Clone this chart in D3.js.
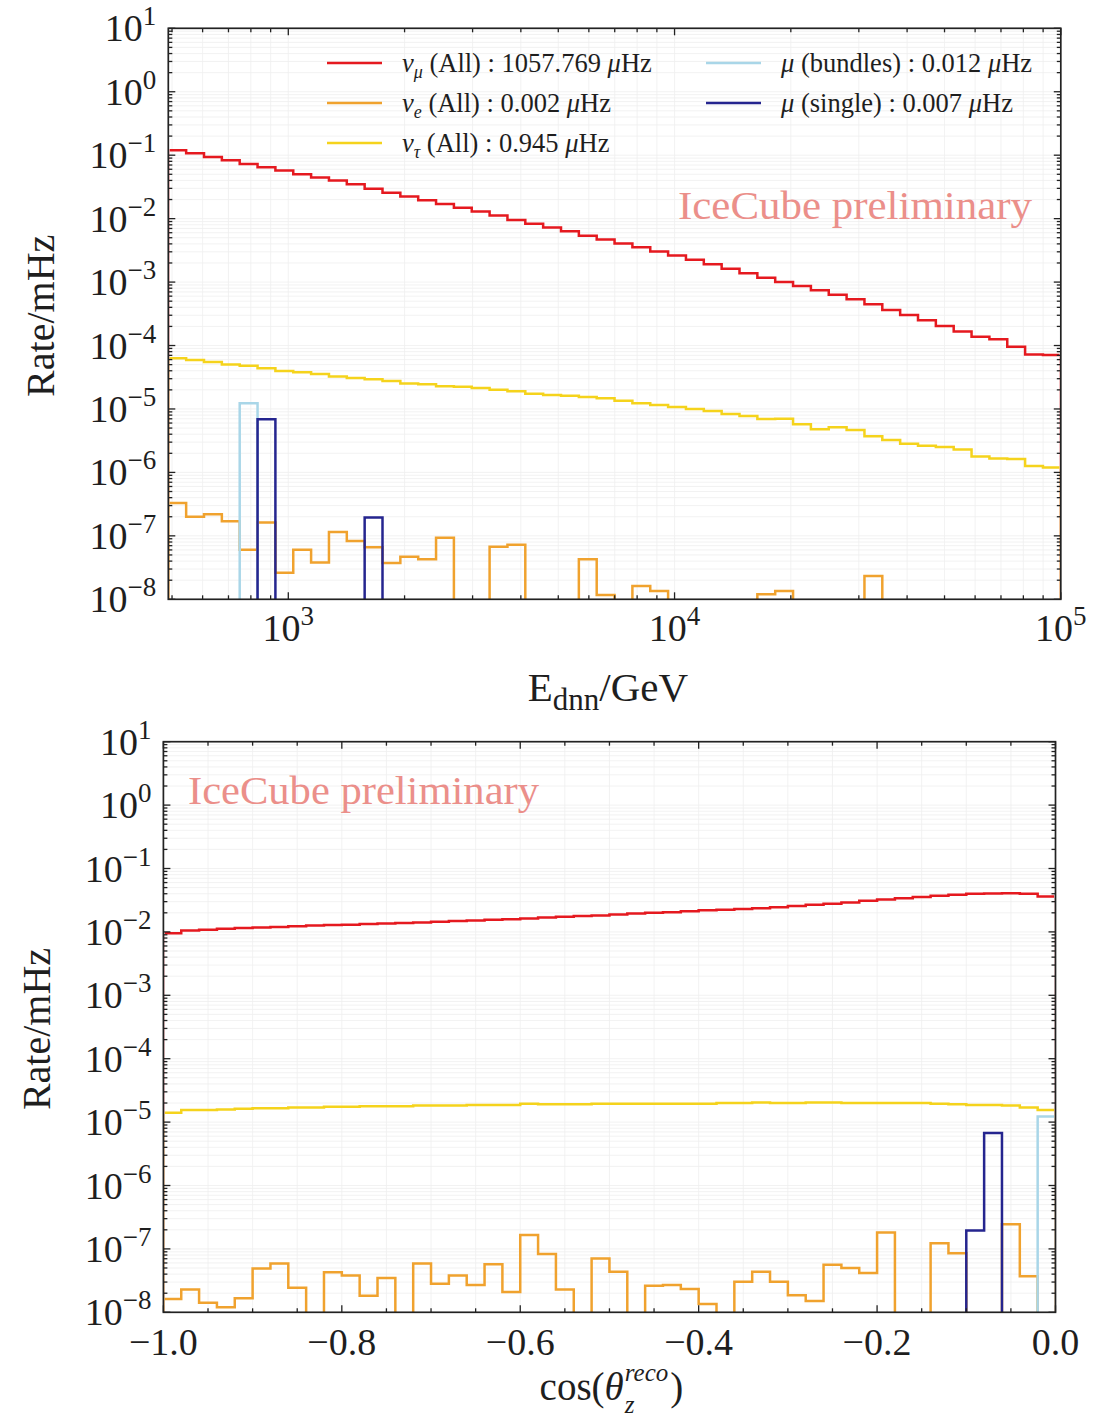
<!DOCTYPE html>
<html><head><meta charset="utf-8">
<script src="https://cdn.jsdelivr.net/npm/d3@7"></script>
<style>
body{margin:0;background:#fff}
svg{display:block}
text{font-family:"Liberation Serif","Times New Roman",serif;fill:#1e1e1e}
</style>
</head><body>
<svg id="chart" width="1105" height="1421"></svg>
<script>
// ---------------- DATA ----------------
// Binning (top panel: reconstructed energy, log bins; bottom panel: cos zenith, linear bins)
const energyMin = 489, energyMax = 1e5, nEnergyBins = 50;
const cosMin = -1.0, cosMax = 0.0, nCosBins = 50;

const seriesKeys   = ["numu", "nue", "nutau", "bundles", "single"];
const seriesColors = ["#e5191f", "#f0a22e", "#f5d31c", "#a9d6e8", "#25258f"];

// Top panel: Rate/mHz per E_dnn bin
const energyNuMu = [1.20e-1,1.07e-1,9.33e-2,8.32e-2,7.24e-2,6.46e-2,5.75e-2,5.01e-2,4.47e-2,3.98e-2,
  3.47e-2,2.95e-2,2.57e-2,2.24e-2,1.95e-2,1.70e-2,1.48e-2,1.29e-2,1.12e-2,9.55e-3,
  8.32e-3,7.24e-3,6.31e-3,5.37e-3,4.68e-3,4.07e-3,3.55e-3,3.02e-3,2.63e-3,2.24e-3,
  1.91e-3,1.62e-3,1.38e-3,1.17e-3,1.00e-3,8.71e-4,7.41e-4,6.31e-4,5.37e-4,4.47e-4,
  3.63e-4,3.02e-4,2.51e-4,2.04e-4,1.66e-4,1.38e-4,1.26e-4,9.55e-5,7.24e-5,7.08e-5];
const energyNuE = [3.31e-7,2.00e-7,2.19e-7,1.70e-7,6.03e-8,1.62e-7,2.63e-8,6.03e-8,3.80e-8,1.15e-7,
  8.32e-8,6.61e-8,3.72e-8,4.68e-8,4.27e-8,9.33e-8,0,0,6.76e-8,7.24e-8,
  0,0,0,4.27e-8,1.17e-8,0,1.62e-8,1.35e-8,0,0,
  0,0,0,1.20e-8,1.35e-8,0,0,0,0,2.34e-8,
  0,0,0,0,0,0,0,0,0,0];
const energyNuTau = [6.31e-5,5.89e-5,5.50e-5,5.01e-5,4.79e-5,4.37e-5,3.98e-5,3.80e-5,3.55e-5,3.24e-5,
  3.09e-5,2.95e-5,2.75e-5,2.51e-5,2.45e-5,2.29e-5,2.24e-5,2.14e-5,2.00e-5,1.91e-5,
  1.74e-5,1.66e-5,1.62e-5,1.55e-5,1.48e-5,1.35e-5,1.23e-5,1.15e-5,1.07e-5,1.00e-5,
  9.33e-6,8.32e-6,7.76e-6,6.92e-6,7.00e-6,5.75e-6,4.79e-6,5.13e-6,4.68e-6,3.72e-6,
  3.24e-6,2.82e-6,2.63e-6,2.51e-6,2.29e-6,1.78e-6,1.66e-6,1.62e-6,1.26e-6,1.20e-6];
const energyMuBundles = [0,0,0,0,1.23e-5,0,0,0,0,0, 0,0,0,0,0,0,0,0,0,0,
  0,0,0,0,0,0,0,0,0,0, 0,0,0,0,0,0,0,0,0,0, 0,0,0,0,0,0,0,0,0,0];
const energyMuSingle = [0,0,0,0,0,6.9e-6,0,0,0,0, 0,1.95e-7,0,0,0,0,0,0,0,0,
  0,0,0,0,0,0,0,0,0,0, 0,0,0,0,0,0,0,0,0,0, 0,0,0,0,0,0,0,0,0,0];

// Bottom panel: Rate/mHz per cos(theta_z^reco) bin
const cosNuMu = [9.55e-3,1.05e-2,1.08e-2,1.12e-2,1.15e-2,1.17e-2,1.20e-2,1.23e-2,1.26e-2,1.29e-2,
  1.30e-2,1.33e-2,1.36e-2,1.38e-2,1.41e-2,1.45e-2,1.48e-2,1.51e-2,1.55e-2,1.58e-2,
  1.62e-2,1.68e-2,1.74e-2,1.78e-2,1.82e-2,1.88e-2,1.95e-2,2.00e-2,2.04e-2,2.11e-2,
  2.19e-2,2.24e-2,2.29e-2,2.37e-2,2.45e-2,2.57e-2,2.69e-2,2.79e-2,2.92e-2,3.09e-2,
  3.24e-2,3.39e-2,3.55e-2,3.72e-2,3.85e-2,3.98e-2,4.03e-2,4.07e-2,3.98e-2,3.63e-2];
const cosNuE = [1.62e-8,2.29e-8,1.41e-8,1.20e-8,1.66e-8,4.90e-8,5.89e-8,2.45e-8,0,4.27e-8,
  3.80e-8,1.82e-8,3.47e-8,0,5.89e-8,2.82e-8,3.80e-8,2.69e-8,5.75e-8,2.09e-8,
  1.66e-7,8.32e-8,2.29e-8,0,7.08e-8,4.37e-8,0,2.63e-8,2.69e-8,2.34e-8,
  1.35e-8,0,3.02e-8,4.37e-8,3.02e-8,1.86e-8,1.51e-8,5.62e-8,5.01e-8,4.17e-8,
  1.82e-7,0,0,1.23e-7,8.51e-8,0,0,2.45e-7,3.72e-8,0];
const cosNuTau = [1.41e-5,1.55e-5,1.55e-5,1.58e-5,1.62e-5,1.66e-5,1.66e-5,1.70e-5,1.70e-5,1.74e-5,
  1.74e-5,1.78e-5,1.78e-5,1.78e-5,1.82e-5,1.82e-5,1.82e-5,1.86e-5,1.86e-5,1.86e-5,
  1.95e-5,1.91e-5,1.91e-5,1.91e-5,1.95e-5,1.95e-5,1.95e-5,1.95e-5,1.95e-5,1.95e-5,
  1.95e-5,2.00e-5,2.00e-5,2.04e-5,2.00e-5,2.00e-5,2.04e-5,2.04e-5,2.00e-5,2.00e-5,
  2.00e-5,2.00e-5,2.00e-5,1.95e-5,1.91e-5,1.86e-5,1.86e-5,1.82e-5,1.70e-5,1.55e-5];
const cosMuBundles = [0,0,0,0,0,0,0,0,0,0, 0,0,0,0,0,0,0,0,0,0, 0,0,0,0,0,0,0,0,0,0,
  0,0,0,0,0,0,0,0,0,0, 0,0,0,0,0,0,0,0,0,1.23e-5];
const cosMuSingle = [0,0,0,0,0,0,0,0,0,0, 0,0,0,0,0,0,0,0,0,0, 0,0,0,0,0,0,0,0,0,0,
  0,0,0,0,0,0,0,0,0,0, 0,0,0,0,0,1.95e-7,6.76e-6,0,0,0];

// Axes / ticks
const rateExponents = [1,0,-1,-2,-3,-4,-5,-6,-7,-8];
const energyExponents = [3,4,5];
const cosTickValues = [-1.0,-0.8,-0.6,-0.4,-0.2,0.0];
const cosTickLabels = ["\u22121.0","\u22120.8","\u22120.6","\u22120.4","\u22120.2","0.0"];

// Legend
const legendSymbols = ["\u03BD","\u03BD","\u03BD","\u03BC","\u03BC"];
const legendSubs    = ["\u03BC","e","\u03C4","",""];
const legendTags    = [" (All) : 1057.769 "," (All) : 0.002 "," (All) : 0.945 "," (bundles) : 0.012 "," (single) : 0.007 "];

// ---------------- DRAWING ----------------
const svg = d3.select("#chart");
const FLOOR = 1e-9;

function logTicks(lo, hi) {
  const major = [], minor = [];
  for (let e = Math.floor(Math.log10(lo)); e <= Math.ceil(Math.log10(hi)); e++) {
    for (let m = 1; m <= 9; m++) {
      const v = m * Math.pow(10, e);
      if (v < lo * 0.9999 || v > hi * 1.0001) continue;
      (m === 1 ? major : minor).push(v);
    }
  }
  return {major, minor};
}

function drawPanel(cfg) {
  const {L, R, T, B, x, edges, series, id} = cfg;
  const y = d3.scaleLog().domain([1e-8, 1e1]).range([B, T]);
  const g = svg.append("g");

  g.append("clipPath").attr("id", id).append("rect")
    .attr("x", L + 1.3).attr("y", T).attr("width", R - L - 2.6).attr("height", B - T);

  const yt = logTicks(1e-8, 1e1);
  const grid = g.append("g").attr("stroke", "#efefef").attr("stroke-width", 0.8);
  yt.major.concat(yt.minor).forEach(v => {
    grid.append("line").attr("x1", L).attr("x2", R).attr("y1", y(v)).attr("y2", y(v));
  });
  cfg.xMajor.concat(cfg.xMinor).forEach(v => {
    grid.append("line").attr("y1", T).attr("y2", B).attr("x1", x(v)).attr("x2", x(v));
  });

  const line = d3.line();
  const plot = g.append("g").attr("clip-path", `url(#${id})`);
  series.forEach((vals, si) => {
    const pts = [[x(edges[0]), y(FLOOR)]];
    vals.forEach((v, i) => {
      const yy = y(v > 0 ? v : FLOOR);
      pts.push([x(edges[i]), yy], [x(edges[i + 1]), yy]);
    });
    pts.push([x(edges[edges.length - 1]), y(FLOOR)]);
    plot.append("path").attr("d", line(pts)).attr("fill", "none")
      .attr("stroke", seriesColors[si]).attr("stroke-width", 2.5)
      .attr("stroke-linejoin", "miter");
  });

  const tk = g.append("g").attr("stroke", "#222").attr("stroke-width", 1.3);
  const tick = (v, len, isX) => {
    if (isX) {
      const xx = x(v);
      tk.append("line").attr("x1", xx).attr("x2", xx).attr("y1", B).attr("y2", B - len);
      tk.append("line").attr("x1", xx).attr("x2", xx).attr("y1", T).attr("y2", T + len);
    } else {
      const yy = y(v);
      tk.append("line").attr("y1", yy).attr("y2", yy).attr("x1", L).attr("x2", L + len);
      tk.append("line").attr("y1", yy).attr("y2", yy).attr("x1", R).attr("x2", R - len);
    }
  };
  yt.major.forEach(v => tick(v, 7, false));
  yt.minor.forEach(v => tick(v, 4, false));
  cfg.xMajor.forEach(v => tick(v, 7, true));
  cfg.xMinor.forEach(v => tick(v, 4, true));

  g.append("rect").attr("x", L).attr("y", T).attr("width", R - L).attr("height", B - T)
    .attr("fill", "none").attr("stroke", "#222").attr("stroke-width", 1.7);

  rateExponents.forEach(e => {
    const t = g.append("text").attr("x", L - 12).attr("y", y(Math.pow(10, e)) + 13)
      .attr("text-anchor", "end").attr("font-size", 38);
    t.append("tspan").text("10");
    t.append("tspan").attr("dy", -16).attr("font-size", 27)
      .text(e < 0 ? "\u2212" + (-e) : String(e));
  });

  g.append("text").attr("transform", `translate(${cfg.yLabelX},${(T + B) / 2 + 2}) rotate(-90)`)
    .attr("text-anchor", "middle").attr("font-size", 40).text("Rate/mHz");

  return {g, y};
}

// ---- Top panel ----
const eL = 168.3, eR = 1060.8, eT = 28.3, eB = 599.3;
const xE = d3.scaleLog().domain([energyMin, energyMax]).range([eL, eR]);
const lmin = Math.log10(energyMin), lmax = Math.log10(energyMax);
const energyEdges = d3.range(nEnergyBins + 1).map(i => Math.pow(10, lmin + i * (lmax - lmin) / nEnergyBins));
const eTicks = logTicks(energyMin, energyMax);
const topPanel = drawPanel({
  id: "clipTop", L: eL, R: eR, T: eT, B: eB, x: xE, edges: energyEdges,
  series: [energyNuMu, energyNuE, energyNuTau, energyMuBundles, energyMuSingle],
  xMajor: eTicks.major, xMinor: eTicks.minor, yLabelX: 54
});
energyExponents.forEach(e => {
  const t = topPanel.g.append("text").attr("x", xE(Math.pow(10, e))).attr("y", eB + 42)
    .attr("text-anchor", "middle").attr("font-size", 38);
  t.append("tspan").text("10");
  t.append("tspan").attr("dy", -16).attr("font-size", 27).text(String(e));
});
{
  const t = topPanel.g.append("text").attr("x", 608).attr("y", 701)
    .attr("text-anchor", "middle").attr("font-size", 41);
  t.append("tspan").text("E");
  t.append("tspan").attr("dy", 9).attr("font-size", 31).text("dnn");
  t.append("tspan").attr("dy", -9).text("/GeV");
}
topPanel.g.append("text").attr("x", 678).attr("y", 219).attr("font-size", 40)
  .attr("textLength", 354).attr("lengthAdjust", "spacingAndGlyphs")
  .style("fill", "#eb8f8a").text("IceCube preliminary");

const legendPos = [[327, 63], [327, 103], [327, 143], [706, 63], [706, 103]];
legendPos.forEach((p, i) => {
  topPanel.g.append("line").attr("x1", p[0]).attr("x2", p[0] + 55).attr("y1", p[1]).attr("y2", p[1])
    .attr("stroke", seriesColors[i]).attr("stroke-width", 2.6);
  const t = topPanel.g.append("text").attr("x", p[0] + 75).attr("y", p[1] + 9).attr("font-size", 26.5);
  t.append("tspan").attr("font-style", "italic").text(legendSymbols[i]);
  if (legendSubs[i]) {
    t.append("tspan").attr("font-style", "italic").attr("font-size", 18).attr("dy", 6).text(legendSubs[i]);
    t.append("tspan").attr("dy", -6).text(legendTags[i]);
  } else {
    t.append("tspan").text(legendTags[i]);
  }
  t.append("tspan").attr("font-style", "italic").text("\u03BC");
  t.append("tspan").text("Hz");
});

// ---- Bottom panel ----
const cL = 163.4, cR = 1055.5, cT = 741.7, cB = 1312.3;
const xC = d3.scaleLinear().domain([cosMin, cosMax]).range([cL, cR]);
const cosEdges = d3.range(nCosBins + 1).map(i => cosMin + i * (cosMax - cosMin) / nCosBins);
const cosMinor = d3.range(21).map(i => -1 + i * 0.05).filter(v => Math.abs(Math.round(v * 5) - v * 5) > 1e-6);
const bottomPanel = drawPanel({
  id: "clipBot", L: cL, R: cR, T: cT, B: cB, x: xC, edges: cosEdges,
  series: [cosNuMu, cosNuE, cosNuTau, cosMuBundles, cosMuSingle],
  xMajor: cosTickValues, xMinor: cosMinor, yLabelX: 50
});
cosTickValues.forEach((v, i) => {
  bottomPanel.g.append("text").attr("x", xC(v)).attr("y", cB + 43).attr("text-anchor", "middle")
    .attr("font-size", 38).text(cosTickLabels[i]);
});
bottomPanel.g.append("text").attr("x", 188).attr("y", 804).attr("font-size", 40)
  .attr("textLength", 351).attr("lengthAdjust", "spacingAndGlyphs")
  .style("fill", "#eb8f8a").text("IceCube preliminary");

{
  const lg = bottomPanel.g.append("g");
  const base = lg.append("text").attr("x", 0).attr("y", 0).attr("font-size", 39);
  base.append("tspan").text("cos(");
  base.append("tspan").attr("font-style", "italic").text("\u03B8");
  const w1 = base.node().getComputedTextLength();
  const sup = lg.append("text").attr("x", w1 + 1).attr("y", -19).attr("font-size", 25)
    .attr("font-style", "italic").text("reco");
  const sub = lg.append("text").attr("x", w1 + 1).attr("y", 13).attr("font-size", 25)
    .attr("font-style", "italic").text("z");
  const w2 = Math.max(sup.node().getComputedTextLength(), sub.node().getComputedTextLength());
  const close = lg.append("text").attr("x", w1 + w2 + 3).attr("y", 0).attr("font-size", 39).text(")");
  const wTot = w1 + w2 + 3 + close.node().getComputedTextLength();
  lg.attr("transform", `translate(${(cL + cR) / 2 - wTot / 2 + 2},1400)`);
}
</script>
</body></html>
